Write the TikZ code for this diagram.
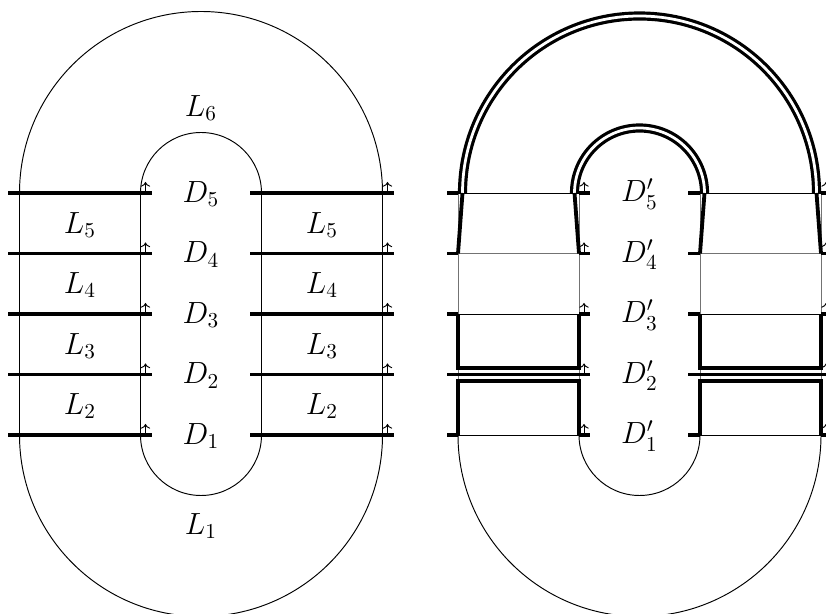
\documentclass[tikz,border=0pt]{standalone}
\usetikzlibrary{arrows.meta}
\begin{document}
\begin{tikzpicture}[x=0.0165289cm,y=0.0165289cm,
  thinln/.style={line width=0.45pt,black},
  greyln/.style={line width=0.45pt,black!55},
  stub/.style={line width=1.8pt},
  boxln/.style={line width=1.7pt},
  band/.style={double,line width=1.5pt,double distance=1.3pt},
  upar/.style={line width=0.45pt,-{To[length=2.2pt,width=4.4pt]}},
  lbl/.style={font=\Large,inner sep=0pt}]
\useasboundingbox (0,0) rectangle (826,-614);
\clip (0,0) rectangle (826,-614);
% ---------- left figure ----------
\draw[thinln] (19.5,-193) -- (19.5,-435) arc[start angle=180,end angle=360,radius=181.5]
  -- (382.5,-193) arc[start angle=0,end angle=180,radius=181.5] -- cycle;
\draw[thinln] (140.5,-193) -- (140.5,-435) arc[start angle=180,end angle=360,radius=60.5]
  -- (261.5,-193) arc[start angle=0,end angle=180,radius=60.5] -- cycle;
\foreach \y in {193,253.5,314,374.5,435}{
  \draw[stub] (8,-\y) -- (152,-\y);
  \draw[stub] (250,-\y) -- (394,-\y);
  \draw[upar] (145.5,-\y) -- (145.5,-\y+11);
  \draw[upar] (387.5,-\y) -- (387.5,-\y+11);
}
\node[lbl] (L6) at (201,-108) {$L_6$};
\node[lbl] (L1) at (201,-526) {$L_1$};
\node[lbl] (L5a) at (80,-225) {$L_5$};
\node[lbl] (L4a) at (80,-285) {$L_4$};
\node[lbl] (L3a) at (80,-346) {$L_3$};
\node[lbl] (L2a) at (80,-406) {$L_2$};
\node[lbl] (L5b) at (322,-225) {$L_5$};
\node[lbl] (L4b) at (322,-285) {$L_4$};
\node[lbl] (L3b) at (322,-346) {$L_3$};
\node[lbl] (L2b) at (322,-406) {$L_2$};
\node[lbl] (D5) at (201,-194) {$D_5$};
\node[lbl] (D4) at (201,-254.5) {$D_4$};
\node[lbl] (D3) at (201,-315) {$D_3$};
\node[lbl] (D2) at (201,-375.5) {$D_2$};
\node[lbl] (D1) at (201,-436) {$D_1$};
% ---------- right figure ----------
\foreach \x in {458,579,700,821}{
  \draw[greyln] (\x,-193) -- (\x,-435);
}
\draw[thinln] (458,-435) arc[start angle=180,end angle=360,radius=181.5];
\draw[thinln] (579,-435) arc[start angle=180,end angle=360,radius=60.5];
\foreach \y in {193,314,435}{
  \draw[thinln] (458,-\y) -- (579,-\y);
  \draw[thinln] (700,-\y) -- (821,-\y);
}
\draw[greyln] (458,-253.5) -- (579,-253.5);
\draw[greyln] (700,-253.5) -- (821,-253.5);
\foreach \y in {193,253.5,314,435}{
  \draw[stub] (447,-\y) -- (458,-\y);
  \draw[stub] (579,-\y) -- (590,-\y);
  \draw[stub] (688,-\y) -- (700,-\y);
  \draw[stub] (821,-\y) -- (832,-\y);
}
\draw[boxln] (447,-374.5) -- (590,-374.5);
\draw[boxln] (688,-374.5) -- (832,-374.5);
% band
\draw[band] (462.5,-193) arc[start angle=180,end angle=0,radius=177];
\draw[band] (574.5,-193) arc[start angle=180,end angle=0,radius=65];
\draw[stub] (462.5,-193) -- (458,-253.5);
\draw[stub] (574.5,-193) -- (579,-253.5);
\draw[stub] (704.5,-193) -- (700,-253.5);
\draw[stub] (816.5,-193) -- (821,-253.5);
% boxes
\draw[boxln] (458,-314) -- (458,-368) -- (579,-368) -- (579,-314);
\draw[boxln] (458,-435) -- (458,-381) -- (579,-381) -- (579,-435);
\draw[boxln] (700,-314) -- (700,-368) -- (821,-368) -- (821,-314);
\draw[boxln] (700,-435) -- (700,-381) -- (821,-381) -- (821,-435);
\foreach \y in {193,253.5,314,374.5,435}{
  \draw[upar] (584,-\y) -- (584,-\y+11);
  \draw[upar] (826,-\y) -- (826,-\y+11);
}
\node[lbl] (Dp5) at (639.5,-194) {$D'_5$};
\node[lbl] (Dp4) at (639.5,-254.5) {$D'_4$};
\node[lbl] (Dp3) at (639.5,-315) {$D'_3$};
\node[lbl] (Dp2) at (639.5,-375.5) {$D'_2$};
\node[lbl] (Dp1) at (639.5,-436) {$D'_1$};
\end{tikzpicture}
\end{document}
